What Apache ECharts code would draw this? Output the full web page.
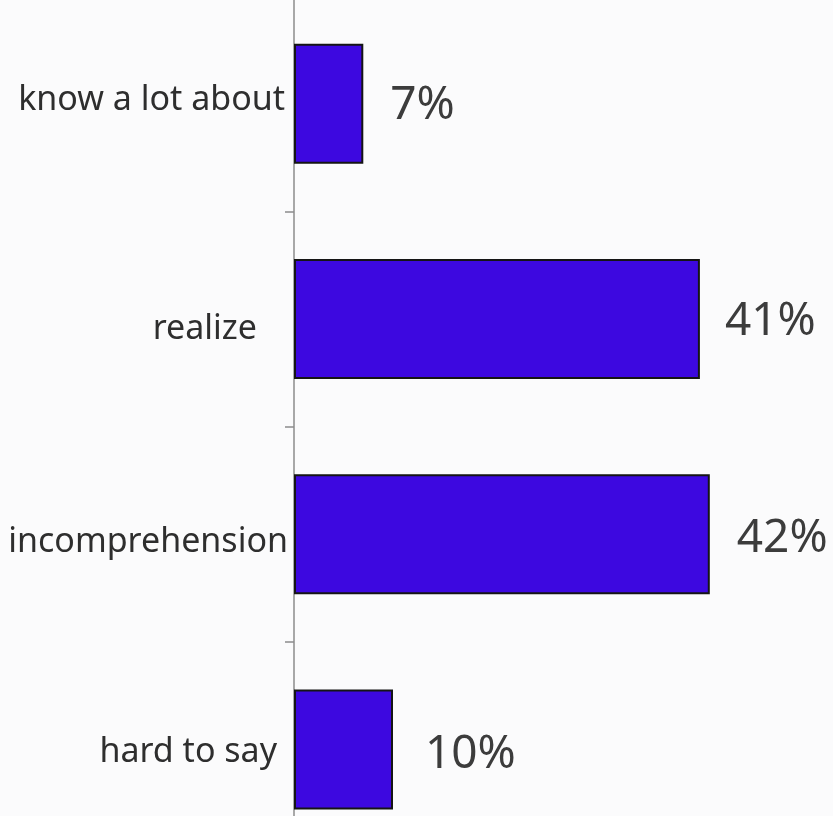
<!DOCTYPE html>
<html>
<head>
<meta charset="utf-8">
<script src="https://cdn.jsdelivr.net/npm/echarts@6/dist/echarts.min.js"></script>
<style>
  html, body { margin: 0; padding: 0; background: #fbfbfc; }
  #chart { width: 833px; height: 816px; }
</style>
</head>
<body>
<div id="chart"></div>
<script>
// Survey answers, top to bottom
const categories = ['know a lot about', 'realize', 'incomprehension', 'hard to say'];
const shares = [7, 41, 42, 10];          // percent of respondents
const valueLabels = ['7%', '41%', '42%', '10%'];

// Per-answer nudges for the axis labels and value labels: [right gap, vertical shift]
const catLabelNudge = [[3, -3], [31, 10], [0, 8], [11, 3]];
const valLabelNudge = [[27, 2], [25, 3], [27, 5], [32, 6]];

const rich = {};
categories.forEach((c, i) => {
  const [gap, dy] = catLabelNudge[i];
  rich['c' + i] = {
    fontFamily: 'Noto Sans',
    fontSize: 34,
    color: '#2e2e2e',
    padding: dy >= 0 ? [2 * dy, gap, 0, 0] : [0, gap, -2 * dy, 0]
  };
});

const chart = echarts.init(document.getElementById('chart'), null, { renderer: 'canvas' });
chart.setOption({
  backgroundColor: '#fbfbfc',
  animation: false,
  grid: {
    left: 294, width: 495, top: -4, height: 861,
    containLabel: false,
    outerBoundsMode: 'none'
  },
  xAxis: {
    type: 'value',
    min: 0,
    max: 50,
    show: false
  },
  yAxis: {
    type: 'category',
    inverse: true,
    data: categories,
    axisLine: { show: true, lineStyle: { color: '#8c8c8c', width: 1.5 } },
    axisTick: { show: true, length: 9, lineStyle: { color: '#8c8c8c', width: 1.5 } },
    axisLabel: {
      margin: 6,
      formatter: (v) => '{c' + categories.indexOf(v) + '|' + v + '}',
      rich: rich
    },
    splitLine: { show: false }
  },
  series: [{
    type: 'bar',
    barWidth: 120,
    data: shares.map((v, i) => ({
      value: v,
      label: {
        show: true,
        position: 'right',
        distance: valLabelNudge[i][0],
        offset: [0, valLabelNudge[i][1]],
        formatter: valueLabels[i],
        fontFamily: 'Noto Sans',
        fontSize: 46,
        color: '#3c3c3c'
      }
    })),
    itemStyle: {
      color: '#3d08e0',
      borderColor: '#151515',
      borderWidth: 2
    }
  }]
});
</script>
</body>
</html>
